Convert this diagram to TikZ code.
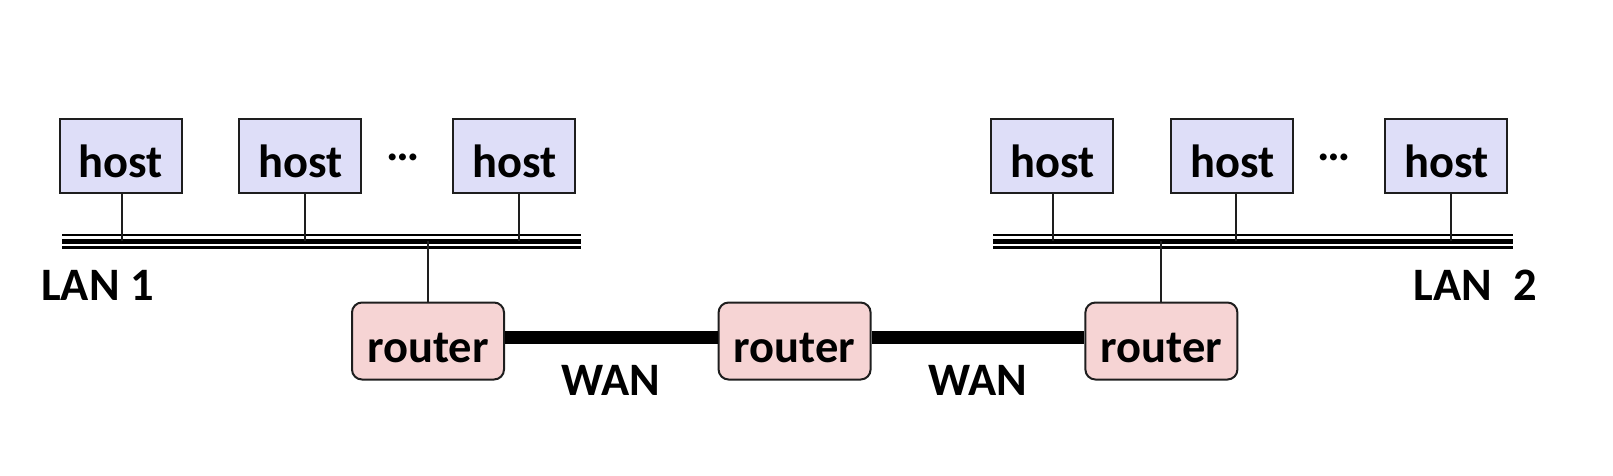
\documentclass[tikz,border=0pt]{standalone}
\usepackage{fontspec}
\setmainfont{Carlito}
\definecolor{hostfill}{RGB}{222,222,248}
\definecolor{routerfill}{RGB}{246,212,212}
\definecolor{edge}{RGB}{30,30,30}
\begin{document}
\begin{tikzpicture}[x=1pt,y=-1pt,
  lbl/.style={font=\fontsize{46.5}{56}\selectfont\bfseries, text=black, inner sep=0pt},
  hostbox/.style={lbl, draw=edge, line width=2pt, fill=hostfill, minimum width=122pt, minimum height=74pt, text height=42pt, text depth=0pt},
  routerbox/.style={lbl, draw=edge, line width=2pt, fill=routerfill, rounded corners=10pt, minimum width=152pt, minimum height=77pt, text height=43pt, text depth=0pt},
  tap/.style={draw=edge, line width=2pt},
  wan/.style={draw=black, line width=12.5pt}]
\useasboundingbox (0,0) rectangle (1613,475);
% hosts
\node[hostbox] (h1) at (120.9,156.4) {host};
\node[hostbox] (h2) at (300.4,156.4) {host};
\node[hostbox] (h3) at (514.4,156.4) {host};
\node[hostbox] (h4) at (1052.4,156.4) {host};
\node[hostbox] (h5) at (1232.4,156.4) {host};
\node[hostbox] (h6) at (1446.4,156.4) {host};
\node[lbl, anchor=base] (d1) at (403,160) {…};
\node[lbl, anchor=base] (d2) at (1334.5,160) {…};
% buses
\coordinate (bl1) at (62,241);
\coordinate (bl2) at (581,241);
\coordinate (br1) at (993,241);
\coordinate (br2) at (1513,241);
\foreach \a/\b in {bl1/bl2, br1/br2}{
  \draw[black, line width=2.5pt] ([yshift=6pt]\a) -- ([yshift=6pt]\b);
  \draw[black, line width=5pt] (\a) -- (\b);
  \draw[black, line width=2.5pt] ([yshift=-6.5pt]\a) -- ([yshift=-6.5pt]\b);
}
% routers
\node[routerbox] (r1) at (428,341) {router};
\node[routerbox] (r2) at (794.6,341) {router};
\node[routerbox] (r3) at (1161.4,341) {router};
% taps
\draw[tap] ([xshift=1.5pt]h1.south) -- ([xshift=1.5pt]h1.south |- bl1);
\draw[tap] ([xshift=5pt]h2.south) -- ([xshift=5pt]h2.south |- bl1);
\draw[tap] ([xshift=5pt]h3.south) -- ([xshift=5pt]h3.south |- bl1);
\draw[tap] ([xshift=1pt]h4.south) -- ([xshift=1pt]h4.south |- br1);
\draw[tap] ([xshift=4pt]h5.south) -- ([xshift=4pt]h5.south |- br1);
\draw[tap] ([xshift=5pt]h6.south) -- ([xshift=5pt]h6.south |- br1);
\draw[tap] (r1.north) -- (r1.north |- bl1);
\draw[tap] (r3.north) -- (r3.north |- br1);
% WAN links
\draw[wan] ([yshift=3.5pt]r1.east) -- ([yshift=3.5pt]r2.west);
\draw[wan] ([yshift=3.5pt]r2.east) -- ([yshift=3.5pt]r3.west);
% labels
\node[lbl] (w1) at (611,380.6) {WAN};
\node[lbl] (w2) at (978,380.6) {WAN};
\node[lbl, anchor=west] (lan1) at (41,285) {LAN 1};
\node[lbl, anchor=east] (lan2) at (1537,285) {LAN\ \ 2};
\end{tikzpicture}
\end{document}
